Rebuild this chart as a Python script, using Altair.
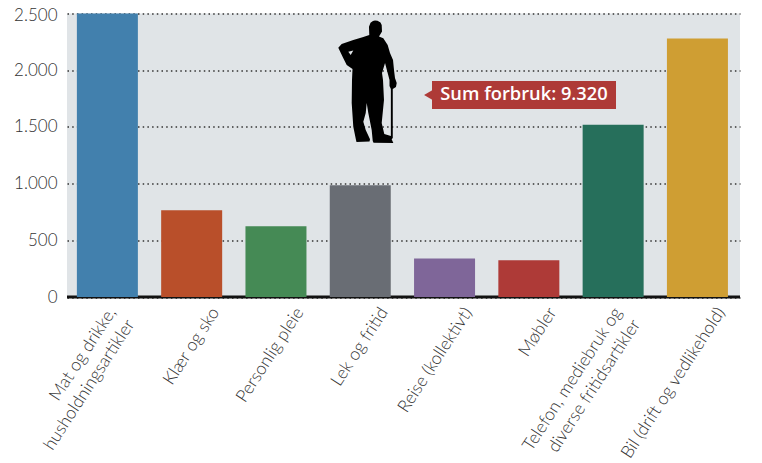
import altair as alt
import pandas as pd

categories = ["Mat og drikke,|husholdningsartikler", "Klær og sko", "Personlig pleie", "Lek og fritid",
              "Reise (kollektivt)", "Møbler", "Telefon, mediebruk og|diverse fritidsartikler",
              "Bil (drift og vedlikehold)"]
values = [2500, 765, 625, 985, 340, 325, 1520, 2280]
colors = ["#4280ad", "#b94f2a", "#458a55", "#696d74", "#7f6699", "#ae3a37", "#266f5b", "#cf9e33"]
y_ticks = [0, 500, 1000, 1500, 2000, 2500]
callout = "Sum forbruk: 9.320"

# Silhouette icon outline (icon shape only)
outline = [(375,20.5),(377.5,20.8),(380.5,22.5),(381.7,25),(382,31.5),(379,36.5),(383.3,38.3),(387.7,45),(390,53),(393,60),(394,70),(395,78),
           (396.7,83),(396,87),(392.8,89),(392.8,138),(391.7,139.3),(393.3,143),(373.5,142.7),(372.7,141),(371.7,130),
           (368.3,113),(366.7,103),(365.7,113),(363.3,121.7),(365.7,130),(370,139.3),(369.5,141.5),(356.5,142),(356,140),
           (353.3,126.7),(351.7,103),(352,80),(352.5,69),(346.7,65),(343.3,58.3),(338.3,47.7),(341.7,44),(353.3,40),
           (363.3,37),(369.3,35),(369,26.7),(370.5,22.8),(373,21)]
gap = [(382,73),(383,80),(384,100),(381.7,123),(384.3,134),(390.9,136),(390.9,89),(389.5,86),(389.5,80),(385,63)]
hole = [(348.3,51.7),(350.7,55),(353.3,50.5)]
cx, cy, r = 367.5, 82, 61.5
def to_path(points):
    pts = [f"{(x-cx)/r:.3f},{(y-cy)/r:.3f}" for x, y in points]
    return "M" + " L".join(pts) + " Z"
icon = to_path(outline) + " " + to_path(hole) + " " + to_path(gap)

FONT = "Lato"
df = pd.DataFrame({"cat": categories, "value": values})
x_enc = alt.X("cat:N", sort=categories, title=None,
              scale=alt.Scale(paddingInner=0.276, paddingOuter=0.13, align=0.45),
              axis=alt.Axis(labelExpr="split(replace(datum.label, '|', '\u00a0\u00a0\u00a0\u00a0\u00a0\u00a0\u00a0|'), '|')",
                            labelAngle=303, labelAlign="right",
                            labelBaseline="middle", labelFont=FONT, labelFontWeight=300, labelFontSize=17.5,
                            labelColor="#333333", labelPadding=12,
                            labelOffset={"condition": {"test": "indexof(datum.label, '|') >= 0", "value": 5}, "value": 24},
                            labelLineHeight=22,
                            ticks=False, domain=False, labelOverlap=False, labelLimit=400, grid=False))
y_enc = alt.Y("value:Q", title=None, scale=alt.Scale(domain=[0, 2500], nice=False),
              axis=alt.Axis(values=y_ticks, labelExpr="replace(format(datum.value, ','), ',', '.')",
                            labelFont=FONT, labelFontWeight=300, labelFontSize=17, labelColor="#333333",
                            labelOffset={"condition": {"test": "datum.value == 2500", "value": 2}, "value": 0},
                            labelPadding=10, ticks=False, domain=False, grid=True, gridColor="#333333",
                            gridDash=[1.5, 3.2], gridWidth=1.4, labelBaseline="middle"))

bars = alt.Chart(df).mark_bar(size=61).encode(
    x=x_enc, y=y_enc,
    color=alt.Color("cat:N", sort=categories, scale=alt.Scale(domain=categories, range=colors), legend=None))
base = alt.Chart(pd.DataFrame({"value": [0]})).mark_rule(color="#111111", strokeWidth=3).encode(y="value:Q")
one = pd.DataFrame({"t": [callout]})
man = alt.Chart(one).mark_point(shape=icon, filled=True, color="#000000", opacity=1, size=r*r*4).encode(
    x=alt.value(cx - 67), y=alt.value(cy - 13.5))
box = alt.Chart(one).mark_rect(color="#ae3a37").encode(x=alt.value(365), x2=alt.value(549), y=alt.value(67.5), y2=alt.value(95.5))
tip = alt.Chart(one).mark_point(shape="triangle-left", filled=True, color="#ae3a37", opacity=1, size=130).encode(
    x=alt.value(362), y=alt.value(81.5))
txt = alt.Chart(one).mark_text(font="Open Sans", fontWeight=600, fontSize=18.3, color="#ffffff", align="center", baseline="middle").encode(
    x=alt.value(457), y=alt.value(81.5), text="t:N")

chart = alt.layer(base, bars, man, tip, box, txt).properties(
    width=673, height=283.5, padding={"left": 59, "top": 5.5, "right": 14, "bottom": 164},
    autosize=alt.AutoSizeParams(type="none"), background="#ffffff"
).configure_view(fill="#e0e4e7", stroke=None)
chart.save("out.html", embed_options={"renderer": "svg", "actions": False})
